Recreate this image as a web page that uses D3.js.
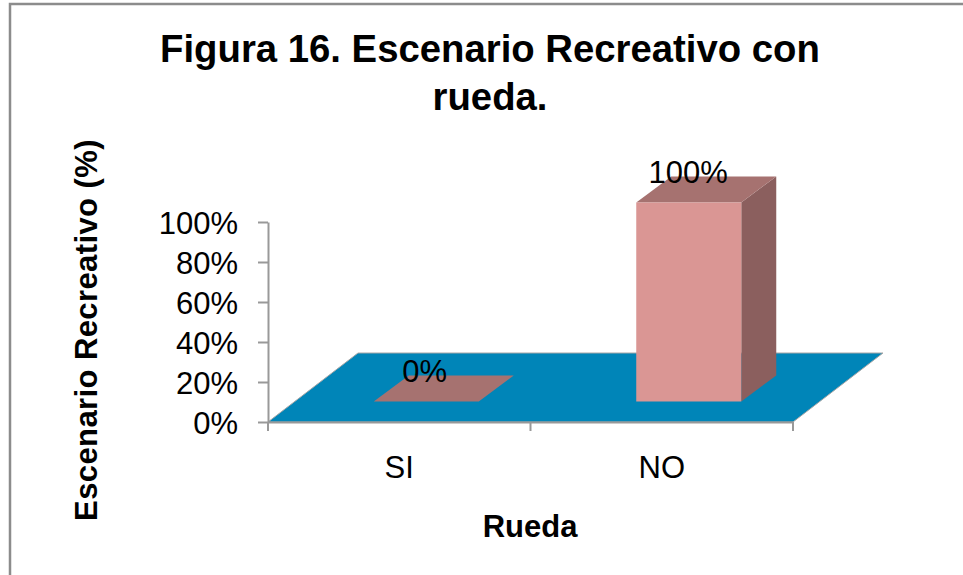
<!DOCTYPE html>
<html><head><meta charset="utf-8">
<script src="https://cdn.jsdelivr.net/npm/d3@7"></script>
<style>html,body{margin:0;padding:0;background:#fff;overflow:hidden}svg{display:block}text{font-family:"Liberation Sans",Arial,sans-serif;fill:#000}</style>
</head><body><div id="c"></div>
<script>
const titleLines = ["Figura 16. Escenario Recreativo con", "rueda."];
const categories = ["SI", "NO"];
const values = [0, 100];
const valueLabels = ["0%", "100%"];
const yTicks = [0, 20, 40, 60, 80, 100];
const xTitle = "Rueda";
const yTitle = "Escenario Recreativo (%)";

const svg = d3.select("#c").append("svg").attr("width", 963).attr("height", 575);
const line = d3.line();
svg.append("path").attr("d", line([[10,575],[10,4],[963,4]]))
  .attr("fill", "none").attr("stroke", "#8c8c8c").attr("stroke-width", 2.5);

const x = d3.scaleBand().domain(categories).range([268, 793]);
const y = d3.scaleLinear().domain([0, 100]).range([422, 222]);

// 3D floor
const floorDx = 90, floorDy = -69;
svg.append("path").attr("d", line([[268,422],[793,422],[793+floorDx,422+floorDy],[268+floorDx,422+floorDy]])+"Z")
  .attr("fill", "#0085b8").attr("stroke", "#a6a6a6").attr("stroke-width", 1);

// axes
const fs = 31;
const ay = svg.append("g").attr("transform", "translate(268,0)")
  .call(d3.axisLeft(y).tickValues(yTicks).tickFormat(d => d + "%").tickSize(10).tickSizeOuter(0));
const ax = svg.append("g").attr("transform", "translate(0,422)")
  .call(d3.axisBottom(x).tickValues([]).tickSizeOuter(0));
ax.selectAll("line.t").data([268, 530.5, 793]).enter().append("line").attr("class","t")
  .attr("x1", d => d).attr("x2", d => d).attr("y1", 0).attr("y2", 9);
ax.selectAll("text.c").data(categories).enter().append("text").attr("class","c")
  .attr("x", d => x(d) + x.bandwidth()/2).attr("y", 56).attr("text-anchor","middle")
  .attr("font-size", fs).text(d => d);
svg.selectAll(".domain, .tick line, line.t").attr("stroke", "#999").attr("stroke-width", 2);
ay.selectAll("text").attr("font-size", fs).attr("x", -30).attr("dy", "0.38em").style("fill","#000");

// bars
const barW = 105, offX = 27, offY = -20.5, dx = 35, dy = -26;
const bars = svg.append("g");
categories.forEach((c, i) => {
  const cx = x(c) + x.bandwidth()/2 + offX;
  const l = cx - barW/2, r = cx + barW/2;
  const b = y(0) + offY, t = b - (y(0) - y(values[i])) * 0.995;
  if (t < b) {
    bars.append("path").attr("d", line([[r,t],[r+dx,t+dy],[r+dx,b+dy],[r,b]])+"Z").attr("fill","#8b5f5e");
  }
  bars.append("path").attr("d", line([[l,t],[r,t],[r+dx,t+dy],[l+dx,t+dy]])+"Z").attr("fill","#a67270");
  if (t < b) bars.append("rect").attr("x",l).attr("y",t).attr("width",barW).attr("height",b-t).attr("fill","#da9694");
  svg.append("text").attr("x", cx - (i ? 0.5 : 1.5)).attr("y", t - 19.5).attr("text-anchor","middle")
    .attr("font-size", fs).text(valueLabels[i]);
});

// titles
const title = svg.append("text").attr("text-anchor","middle").attr("font-size", 38.3).attr("font-weight","bold");
titleLines.forEach((s, i) => title.append("tspan").attr("x", 490).attr("y", 62 + i*47.5).text(s));
svg.append("text").attr("x", 530).attr("y", 537).attr("text-anchor","middle")
  .attr("font-size", fs).attr("font-weight","bold").text(xTitle);
svg.append("text").attr("transform","translate(97,330) rotate(-90)").attr("text-anchor","middle")
  .attr("font-size", fs).attr("font-weight","bold").attr("letter-spacing", 0.4).text(yTitle);
</script></body></html>
